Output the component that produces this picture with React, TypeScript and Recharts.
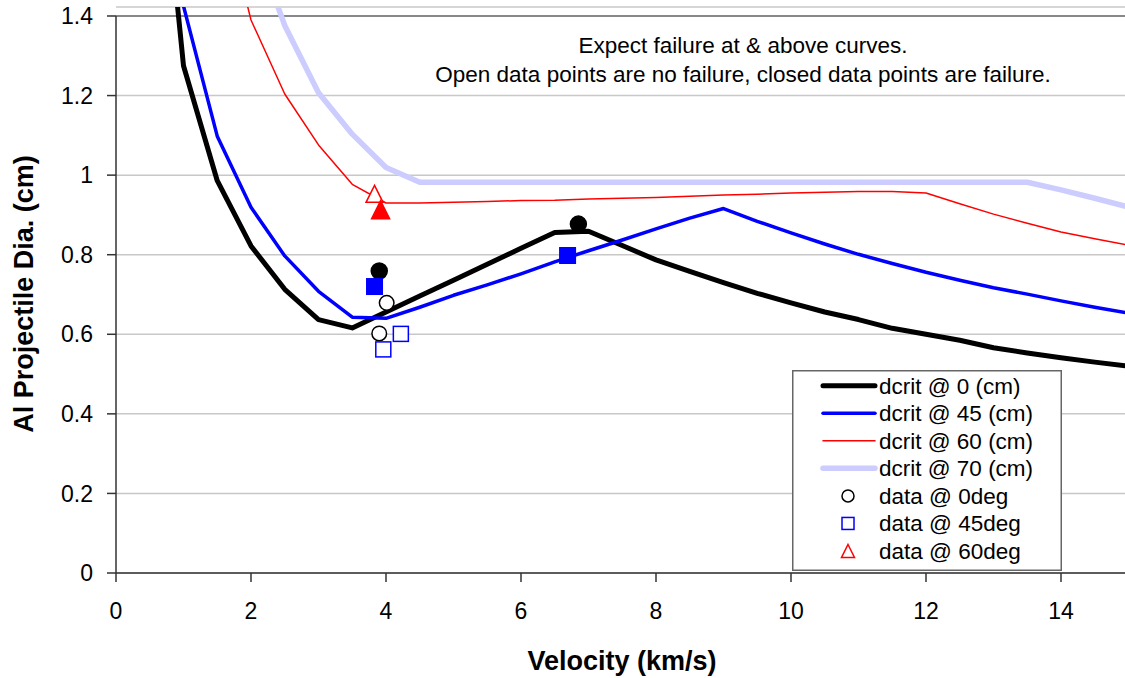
import {
  ComposedChart,
  Line,
  Scatter,
  XAxis,
  YAxis,
  CartesianGrid,
  ReferenceLine,
  Legend,
} from "recharts";

const FONT = "'Liberation Sans', Arial, Helvetica, sans-serif";
const INK = "#000000";
const BLUE = "#0000ff";
const RED = "#ff0000";
const LAV = "#ccccff";
const GRID = "#c8c8c8";
const AXIS = "#333333";

// velocity grid (km/s) shared by the four dcrit curves
const velocity = [0.5, 1, 1.5, 2, 2.5, 3, 3.5, 4, 4.5, 5, 5.5, 6, 6.5, 7, 7.5, 8, 8.5, 9, 9.5, 10, 10.5, 11, 11.5, 12, 12.5, 13, 13.5, 14, 14.5, 15];

// critical diameter (cm) at 0 / 45 / 60 / 70 deg
const dcrit0 = [2.12, 1.275, 0.986, 0.822, 0.713, 0.637, 0.616, 0.656, 0.696, 0.736, 0.776, 0.816, 0.856, 0.859, 0.823, 0.787, 0.758, 0.73, 0.703, 0.679, 0.656, 0.637, 0.615, 0.6, 0.585, 0.566, 0.553, 0.541, 0.53, 0.52];
const dcrit45 = [2.3, 1.425, 1.098, 0.919, 0.797, 0.708, 0.643, 0.64, 0.668, 0.698, 0.724, 0.752, 0.782, 0.81, 0.837, 0.865, 0.892, 0.916, 0.884, 0.855, 0.827, 0.801, 0.778, 0.756, 0.736, 0.717, 0.701, 0.684, 0.668, 0.653];
const dcrit60 = [null, null, 1.73, 1.39, 1.204, 1.076, 0.977, 0.93, 0.93, 0.932, 0.934, 0.936, 0.937, 0.94, 0.942, 0.944, 0.947, 0.95, 0.952, 0.955, 0.957, 0.959, 0.959, 0.955, 0.928, 0.902, 0.879, 0.857, 0.84, 0.824];
const dcrit70 = [null, null, null, 1.61, 1.376, 1.207, 1.103, 1.019, 0.982, 0.982, 0.982, 0.982, 0.982, 0.982, 0.982, 0.982, 0.982, 0.982, 0.982, 0.982, 0.982, 0.982, 0.982, 0.982, 0.982, 0.982, 0.982, 0.963, 0.942, 0.92];

// test shots: open = no failure, closed = failure
const open0 = [{ v: 4.01, d: 0.679 }, { v: 3.9, d: 0.602 }];
const closed0 = [{ v: 3.9, d: 0.759 }, { v: 6.85, d: 0.877 }];
const open45 = [{ v: 4.22, d: 0.601 }, { v: 3.96, d: 0.562 }];
const closed45 = [{ v: 3.83, d: 0.72 }, { v: 6.69, d: 0.798 }];
const open60 = [{ v: 3.83, d: 0.953 }];
const closed60 = [{ v: 3.92, d: 0.913 }];

const xTicks = [0, 2, 4, 6, 8, 10, 12, 14];
const yTicks = [0, 0.2, 0.4, 0.6, 0.8, 1, 1.2, 1.4];

const rows = velocity.map((v, i) => ({
  v,
  d0: dcrit0[i],
  d45: dcrit45[i],
  d60: dcrit60[i],
  d70: dcrit70[i],
}));

const W = 1135;
const H = 678;

/* eslint-disable @typescript-eslint/no-explicit-any */
const circle = (filled: boolean, r: number) => (p: any) => (
  <circle cx={p.cx} cy={p.cy} r={r} fill={filled ? INK : "#fff"} stroke={INK} strokeWidth={1.5} />
);
const square = (filled: boolean, s: number) => (p: any) => (
  <rect x={p.cx - s / 2} y={p.cy - s / 2} width={s} height={s} fill={filled ? BLUE : "#fff"} stroke={BLUE} strokeWidth={1.5} />
);
const triangle = (filled: boolean, w: number, h: number) => (p: any) => (
  <polygon
    points={`${p.cx},${p.cy - h / 2} ${p.cx + w / 2},${p.cy + h / 2} ${p.cx - w / 2},${p.cy + h / 2}`}
    fill={filled ? RED : "#fff"}
    stroke={RED}
    strokeWidth={1.5}
    strokeLinejoin="miter"
  />
);

const legendItems = [
  { label: "dcrit @ 0 (cm)", kind: "line", color: INK, width: 5 },
  { label: "dcrit @ 45 (cm)", kind: "line", color: BLUE, width: 3.5 },
  { label: "dcrit @ 60 (cm)", kind: "line", color: RED, width: 1.5 },
  { label: "dcrit @ 70 (cm)", kind: "line", color: LAV, width: 5.5 },
  { label: "data @ 0deg", kind: "circle", color: INK, width: 1.5 },
  { label: "data @ 45deg", kind: "square", color: BLUE, width: 1.5 },
  { label: "data @ 60deg", kind: "triangle", color: RED, width: 1.5 },
];

function LegendBox() {
  const w = 270;
  const h = 201;
  return (
    <svg width={w} height={h} style={{ display: "block" }}>
      <rect x={0.75} y={0.75} width={w - 1.5} height={h - 1.5} fill="#fff" stroke="#666" strokeWidth={1.5} />
      {legendItems.map((it, i) => {
        const cy = 15.7 + i * 27.55;
        const mx = 56;
        let sample;
        if (it.kind === "line") {
          sample = <line x1={31} x2={83} y1={cy} y2={cy} stroke={it.color} strokeWidth={it.width} strokeLinecap="round" />;
        } else if (it.kind === "circle") {
          sample = <circle cx={mx} cy={cy} r={6} fill="#fff" stroke={it.color} strokeWidth={1.5} />;
        } else if (it.kind === "square") {
          sample = <rect x={mx - 6} y={cy - 6} width={12} height={12} fill="#fff" stroke={it.color} strokeWidth={1.5} />;
        } else {
          sample = <polygon points={`${mx},${cy - 6.5} ${mx + 6.5},${cy + 6.5} ${mx - 6.5},${cy + 6.5}`} fill="#fff" stroke={it.color} strokeWidth={1.5} />;
        }
        return (
          <g key={it.label}>
            {sample}
            <text x={87} y={cy + 8} fontFamily={FONT} fontSize={22.5} fill={INK}>
              {it.label}
            </text>
          </g>
        );
      })}
    </svg>
  );
}

export default function App() {
  const tickStyle = { fill: INK, fontSize: 23, fontFamily: FONT };
  return (
    <div style={{ position: "fixed", left: 0, top: 0, width: 1125, height: 678, overflow: "hidden", background: "#fff" }}>
      <ComposedChart width={W} height={H} data={rows} margin={{ top: 7, right: 6.5, bottom: 0, left: 0 }}>
        <CartesianGrid horizontal vertical={false} stroke={GRID} strokeWidth={1.5} />
        <XAxis
          dataKey="v"
          type="number"
          domain={[0, 15]}
          allowDataOverflow
          ticks={xTicks}
          height={105}
          tick={tickStyle}
          tickSize={9}
          tickMargin={21}
          axisLine={{ stroke: AXIS, strokeWidth: 1.5 }}
          tickLine={{ stroke: AXIS, strokeWidth: 1.5 }}
        />
        <YAxis
          type="number"
          domain={[0, 1.4226]}
          allowDataOverflow
          ticks={yTicks}
          width={116}
          tick={tickStyle}
          tickSize={9}
          tickMargin={14}
          axisLine={false}
          tickLine={{ stroke: AXIS, strokeWidth: 1.5 }}
        />
        <ReferenceLine y={1.4} stroke="#888" strokeWidth={2} />
        <ReferenceLine segment={[{ x: 0, y: 0 }, { x: 0, y: 1.4 }]} stroke={AXIS} strokeWidth={1.5} />

        <Line dataKey="d0" stroke={INK} strokeWidth={5} dot={false} activeDot={false} isAnimationActive={false} strokeLinejoin="round" />
        <Line dataKey="d45" stroke={BLUE} strokeWidth={3.5} dot={false} activeDot={false} isAnimationActive={false} strokeLinejoin="round" />
        <Line dataKey="d60" stroke={RED} strokeWidth={1.5} dot={false} activeDot={false} isAnimationActive={false} strokeLinejoin="round" />
        <Line dataKey="d70" stroke={LAV} strokeWidth={5.5} dot={false} activeDot={false} isAnimationActive={false} strokeLinejoin="round" />

        <Scatter data={open0} dataKey="d" shape={circle(false, 7.3)} isAnimationActive={false} />
        <Scatter data={closed0} dataKey="d" shape={circle(true, 8)} isAnimationActive={false} />
        <Scatter data={open45} dataKey="d" shape={square(false, 15)} isAnimationActive={false} />
        <Scatter data={closed45} dataKey="d" shape={square(true, 15.5)} isAnimationActive={false} />
        <Scatter data={open60} dataKey="d" shape={triangle(false, 17, 17)} isAnimationActive={false} />
        <Scatter data={closed60} dataKey="d" shape={triangle(true, 18, 18)} isAnimationActive={false} />

        <Legend
          layout="vertical"
          align="center"
          verticalAlign="middle"
          content={() => <LegendBox />}
          wrapperStyle={{ position: "absolute", left: 792, top: 370, width: 270, height: 201 }}
        />
      </ComposedChart>

      {/* titles and note */}
      <svg width={1125} height={678} style={{ position: "absolute", left: 0, top: 0, pointerEvents: "none" }}>
        <text x={743} y={53.3} textAnchor="middle" fontFamily={FONT} fontSize={22.5} fill={INK}>
          Expect failure at &amp; above curves.
        </text>
        <text x={743} y={81.7} textAnchor="middle" fontFamily={FONT} fontSize={22.5} fill={INK}>
          Open data points are no failure, closed data points are failure.
        </text>
        <text x={622} y={670} textAnchor="middle" fontFamily={FONT} fontSize={27} fontWeight="bold" fill={INK}>
          Velocity (km/s)
        </text>
        <text transform="translate(33, 294) rotate(-90)" textAnchor="middle" fontFamily={FONT} fontSize={27} fontWeight="bold" fill={INK}>
          Al Projectile Dia. (cm)
        </text>
      </svg>
    </div>
  );
}
